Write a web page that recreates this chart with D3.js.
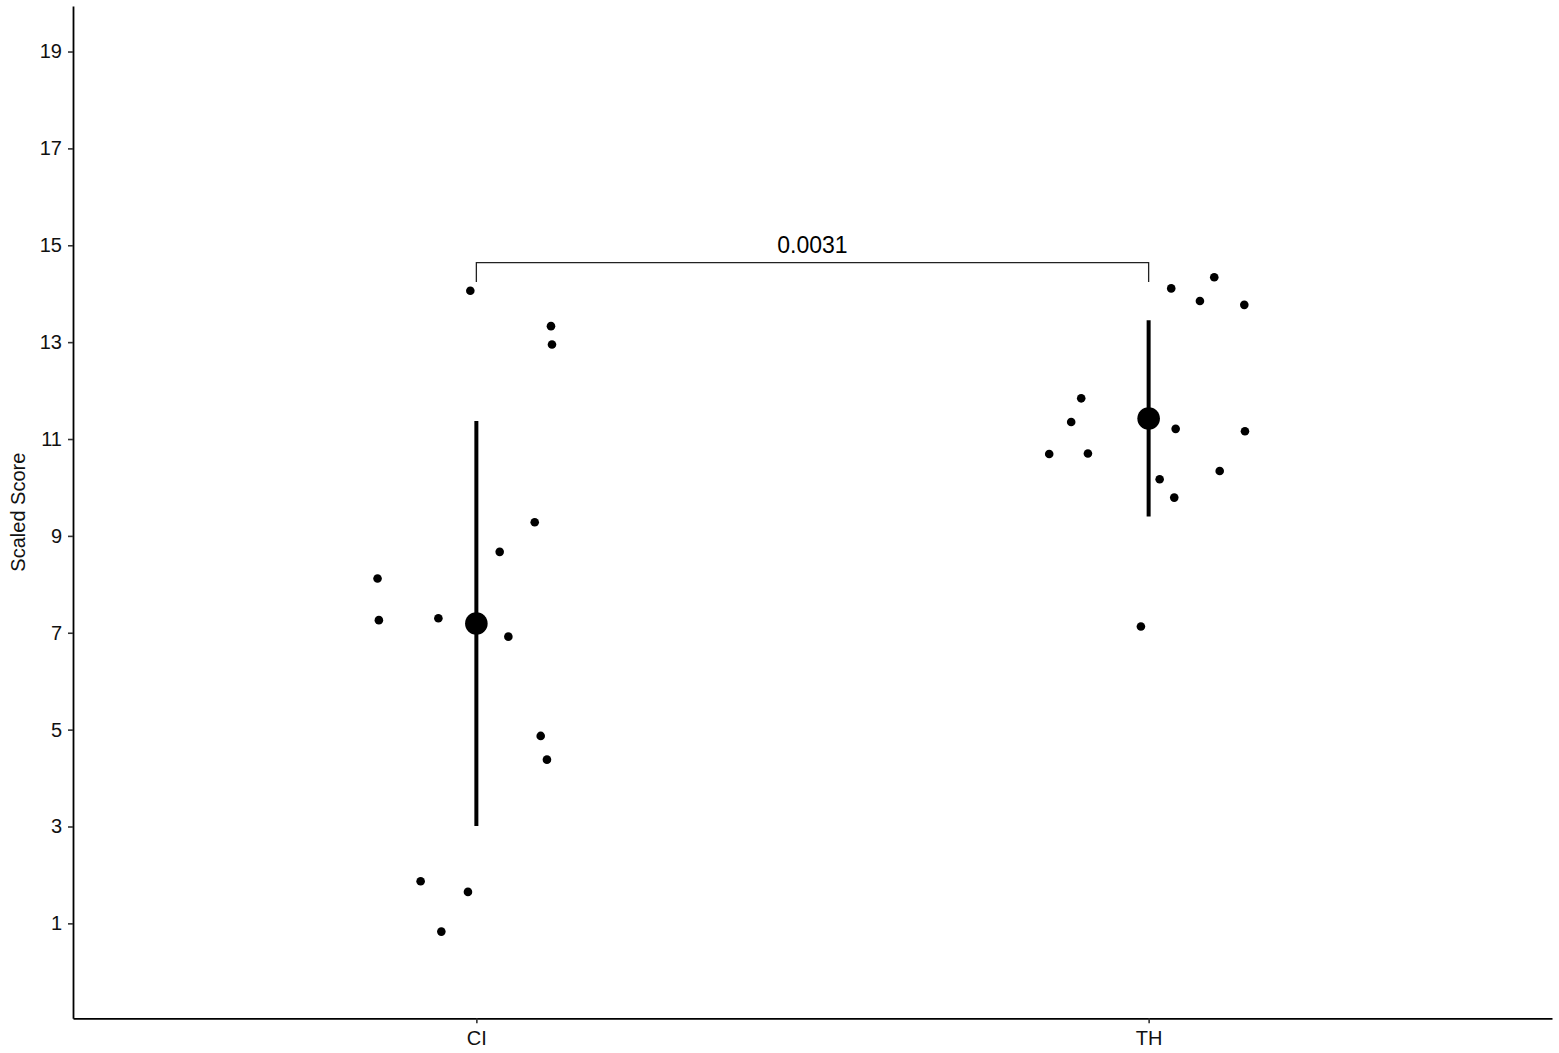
<!DOCTYPE html>
<html>
<head>
<meta charset="utf-8">
<script src="https://cdn.jsdelivr.net/npm/d3@7"></script>
<style>
  html, body { margin: 0; padding: 0; background: #fff; }
  svg { display: block; font-family: "Liberation Sans", Arial, sans-serif; }
</style>
</head>
<body>
<svg id="chart" width="1559" height="1053"></svg>
<script>
// ---- data ----
const categories = ["CI", "TH"];
const ciValues  = [14.06, 13.33, 12.95, 9.28, 8.67, 8.12, 7.26, 7.30, 6.92, 4.87, 4.38, 1.87, 1.65, 0.83];
const ciJitter  = [-0.009, 0.111, 0.1125, 0.0868, 0.0347, -0.147, -0.145, -0.0565, 0.0476, 0.0957, 0.105, -0.0829, -0.0125, -0.0521];
const thValues  = [14.11, 14.34, 13.85, 13.77, 11.84, 11.35, 11.21, 11.16, 10.69, 10.70, 10.34, 10.17, 9.79, 7.13];
const thJitter  = [0.0336, 0.0976, 0.0763, 0.1423, -0.1003, -0.1152, 0.0402, 0.1433, -0.1479, -0.0903, 0.1057, 0.0164, 0.0381, -0.0115];
const means     = [7.19, 11.425];
const sds       = [4.18, 2.025];
const yTicks    = [1, 3, 5, 7, 9, 11, 13, 15, 17, 19];
const yDomain   = [-0.96, 19.94];
const bracketY  = 14.64;
const bracketTip = 14.24;
const pLabel    = "0.0031";
const yTitle    = "Scaled Score";

// ---- layout ----
const mLeft = 73, mRight = 1552, mTop = 6, mBottom = 1018.3;
const svg = d3.select("#chart");

const x = d3.scalePoint().domain(categories).range([mLeft, mRight]).padding(0.6);
const step = x.step();
const y = d3.scaleLinear().domain(yDomain).range([mBottom, mTop]);

// axes
const yAxis = d3.axisLeft(y).tickValues(yTicks).tickSize(5).tickSizeOuter(0).tickPadding(6).tickFormat(d3.format("d"));
const gy = svg.append("g").attr("transform", `translate(${mLeft},0)`).call(yAxis);
gy.select(".domain").attr("stroke", "#000").attr("stroke-width", 1.8);
gy.selectAll(".tick line").attr("stroke", "#333").attr("stroke-width", 1.6);
gy.selectAll(".tick text").attr("fill", "#111").attr("font-size", 20)
  .attr("font-family", "'Liberation Sans', Arial, sans-serif");

const xAxis = d3.axisBottom(x).tickSize(5).tickSizeOuter(0).tickPadding(8);
const gx = svg.append("g").attr("transform", `translate(0,${mBottom})`).call(xAxis);
gx.select(".domain").attr("stroke", "#000").attr("stroke-width", 1.8);
gx.selectAll(".tick line").attr("stroke", "#333").attr("stroke-width", 1.6);
gx.selectAll(".tick text").attr("fill", "#111").attr("font-size", 20)
  .attr("font-family", "'Liberation Sans', Arial, sans-serif");

// y title
svg.append("text")
  .attr("transform", `translate(25,${(mTop + mBottom) / 2}) rotate(-90)`)
  .attr("text-anchor", "middle")
  .attr("font-size", 20)
  .attr("fill", "#111")
  .text(yTitle);

// jittered points
const pts = [];
ciValues.forEach((v, i) => pts.push({ cat: "CI", v, j: ciJitter[i] }));
thValues.forEach((v, i) => pts.push({ cat: "TH", v, j: thJitter[i] }));

svg.append("g").selectAll("circle").data(pts).join("circle")
  .attr("cx", d => x(d.cat) + d.j * step)
  .attr("cy", d => y(d.v))
  .attr("r", 4.3)
  .attr("fill", "#000");

// error bars (mean ± sd)
const summ = categories.map((c, i) => ({ cat: c, m: means[i], s: sds[i] }));
svg.append("g").selectAll("line").data(summ).join("line")
  .attr("x1", d => x(d.cat)).attr("x2", d => x(d.cat))
  .attr("y1", d => y(d.m - d.s)).attr("y2", d => y(d.m + d.s))
  .attr("stroke", "#000").attr("stroke-width", 4);

svg.append("g").selectAll("circle").data(summ).join("circle")
  .attr("cx", d => x(d.cat)).attr("cy", d => y(d.m))
  .attr("r", 11.3).attr("fill", "#000");

// significance bracket
const bx1 = x(categories[0]), bx2 = x(categories[1]);
svg.append("path")
  .attr("d", `M${bx1},${y(bracketTip)}V${y(bracketY)}H${bx2}V${y(bracketTip)}`)
  .attr("fill", "none").attr("stroke", "#222").attr("stroke-width", 1.3);
svg.append("text")
  .attr("x", (bx1 + bx2) / 2).attr("y", y(bracketY) - 10)
  .attr("text-anchor", "middle")
  .attr("font-size", 23)
  .attr("fill", "#000")
  .text(pLabel);
</script>
</body>
</html>
